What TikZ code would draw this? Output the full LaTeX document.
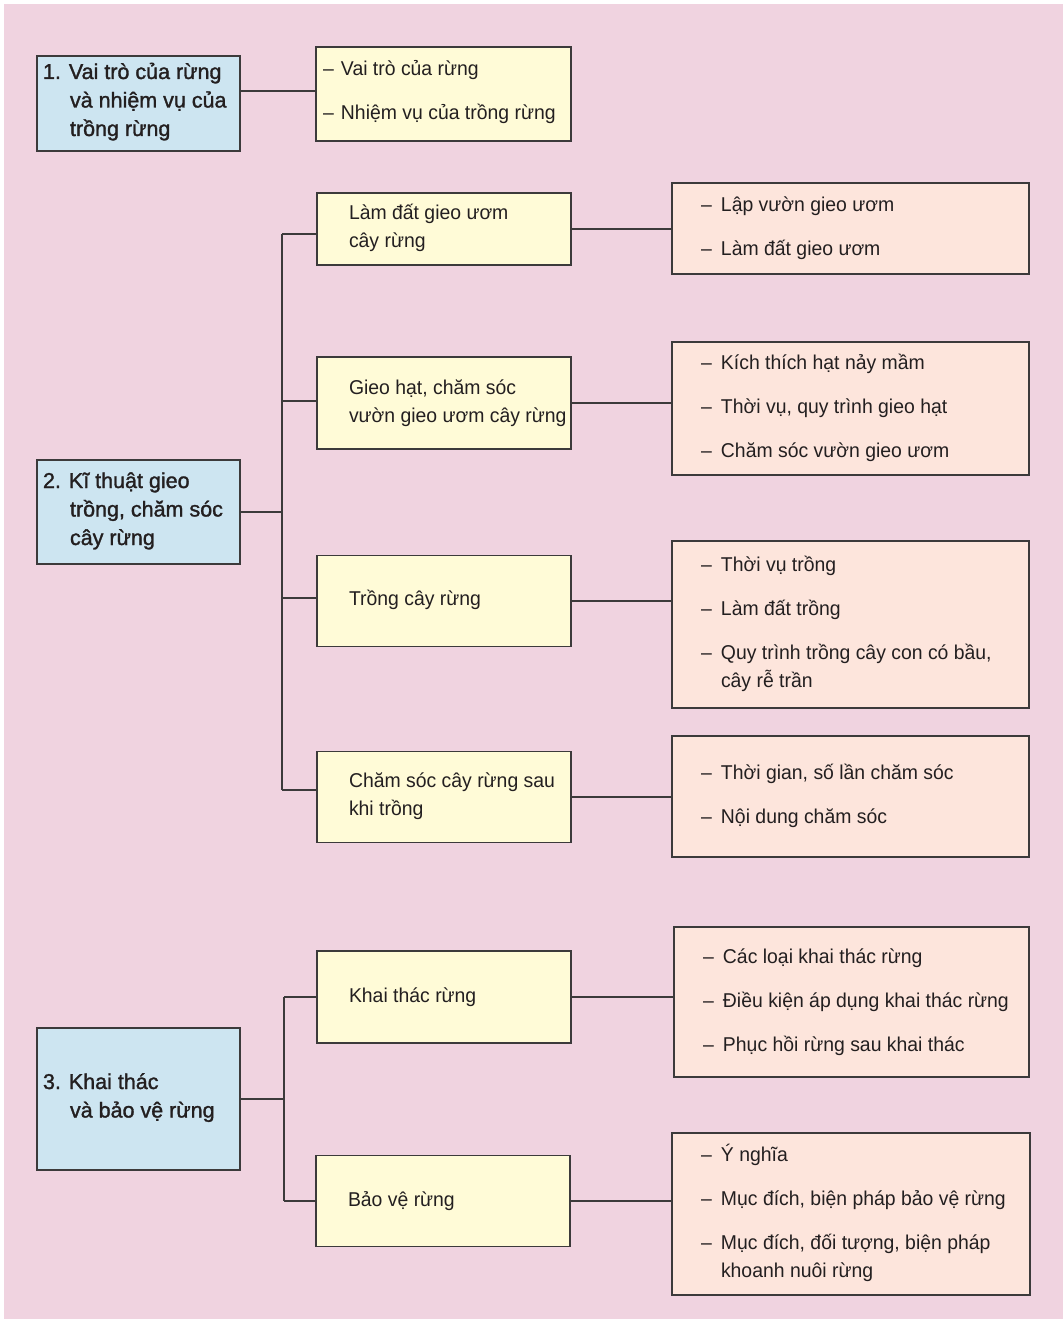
\documentclass[tikz,border=0pt]{standalone}
\usepackage{fontspec}
\setmainfont{Liberation Sans}[FakeStretch=0.97]
\newfontfamily\headfont{Liberation Sans}[FakeBold=1.4]
\definecolor{bgpink}{HTML}{F0D3E0}
\definecolor{bluefill}{HTML}{CDE5F1}
\definecolor{yelfill}{HTML}{FFFBD7}
\definecolor{peachfill}{HTML}{FDE5DC}
\definecolor{edge}{HTML}{3C3A3B}
\definecolor{ink}{HTML}{231F20}
\newcommand\dsh[1]{\makebox[#1][l]{–}}
\newcommand\mlines[1]{\parbox[t]{420pt}{\raggedright #1}}
\newcommand\hlines[2]{\parbox[t]{420pt}{\hangindent=#1\hangafter=1\relax #2}}
\tikzset{
  box/.style={draw=edge, line width=1.3pt, rectangle, inner sep=0pt, outer sep=0pt},
  bluebox/.style={box, fill=bluefill},
  yelbox/.style={box, fill=yelfill},
  peachbox/.style={box, fill=peachfill},
  txt/.style={anchor=base west, inner sep=0pt, outer sep=0pt, text=ink, font=\fontsize{20}{28.5}\selectfont},
  head/.style={txt, font=\headfont\fontsize{21.5}{28.5}\selectfont},
  link/.style={draw=edge, line width=1.5pt},
}
\begin{document}
\begin{tikzpicture}[x=1pt, y=-1pt]
\useasboundingbox (0,0) rectangle (1063,1319);
\fill[white] (0,0) rectangle (1063,1319);
\fill[bgpink] (4,4) rectangle (1063,1319);

% ---------- boxes ----------
\node[bluebox, minimum width=203pt, minimum height=95pt] (b1) at (138.5,103.5) {};
\node[yelbox, minimum width=255pt, minimum height=94pt] (y1) at (443.5,94) {};

\node[bluebox, minimum width=203pt, minimum height=104pt] (b2) at (138.5,512) {};
\node[yelbox, minimum width=254pt, minimum height=72pt] (y21) at (444,229) {};
\node[yelbox, minimum width=254pt, minimum height=92pt] (y22) at (444,403) {};
\node[yelbox, minimum width=254pt, minimum height=91pt] (y23) at (444,601) {};
\node[yelbox, minimum width=254pt, minimum height=91pt] (y24) at (444,797) {};
\node[peachbox, minimum width=357pt, minimum height=91pt] (p21) at (850.5,228.5) {};
\node[peachbox, minimum width=357pt, minimum height=133pt] (p22) at (850.5,408.5) {};
\node[peachbox, minimum width=357pt, minimum height=167pt] (p23) at (850.5,624.5) {};
\node[peachbox, minimum width=357pt, minimum height=121pt] (p24) at (850.5,796.5) {};

\node[bluebox, minimum width=203pt, minimum height=142pt] (b3) at (138.5,1099) {};
\node[yelbox, minimum width=254pt, minimum height=92pt] (y31) at (444,997) {};
\node[yelbox, minimum width=254pt, minimum height=91pt] (y32) at (443,1201) {};
\node[peachbox, minimum width=355pt, minimum height=150pt] (p31) at (851.5,1002) {};
\node[peachbox, minimum width=358pt, minimum height=162pt] (p32) at (851,1214) {};

% ---------- connectors ----------
\coordinate (c1) at ([yshift=3pt]y1.west);
\draw[link] (c1 -| b1.east) -- (c1);

\coordinate (t2a) at (282,234);
\coordinate (t2b) at (282,401);
\coordinate (t2c) at (282,598);
\coordinate (t2d) at (282,790);
\draw[link] (b2.east) -- (b2.east -| t2a);
\draw[link] (t2a) -- (t2d);
\draw[link] (t2a) -- (t2a -| y21.west);
\draw[link] (t2b) -- (t2b -| y22.west);
\draw[link] (t2c) -- (t2c -| y23.west);
\draw[link] (t2d) -- (t2d -| y24.west);
\draw[link] (y21.east) -- (y21.east -| p21.west);
\draw[link] (y22.east) -- (y22.east -| p22.west);
\draw[link] (y23.east) -- (y23.east -| p23.west);
\draw[link] (y24.east) -- (y24.east -| p24.west);

\coordinate (t3) at (284,1099);
\draw[link] (b3.east) -- (t3);
\draw[link] (t3 |- y31.west) -- (t3 |- y32.west);
\draw[link] (t3 |- y31.west) -- (y31.west);
\draw[link] (t3 |- y32.west) -- (y32.west);
\draw[link] (y31.east) -- (y31.east -| p31.west);
\draw[link] (y32.east) -- (y32.east -| p32.west);

% ---------- texts ----------
\node[head] (b1t) at (43,79) {\hlines{27pt}{1. Vai trò của rừng\\và nhiệm vụ của\\trồng rừng}};
\node[txt] (y1a) at (323,76) {\dsh{18pt}Vai trò của rừng};
\node[txt] (y1b) at (323,120) {\dsh{18pt}Nhiệm vụ của trồng rừng};

\node[head] (b2t) at (43,488) {\hlines{27pt}{2. Kĩ thuật gieo\\trồng, chăm sóc\\cây rừng}};
\node[txt] (y21t) at (349,219) {\mlines{Làm đất gieo ươm\\cây rừng}};
\node[txt] (y22t) at (349,394) {\mlines{Gieo hạt, chăm sóc\\vườn gieo ươm cây rừng}};
\node[txt] (y23t) at (349,605) {Trồng cây rừng};
\node[txt] (y24t) at (349,787) {\mlines{Chăm sóc cây rừng sau\\khi trồng}};

\node[txt] (p21a) at (701,211) {\dsh{20pt}Lập vườn gieo ươm};
\node[txt] (p21b) at (701,255) {\dsh{20pt}Làm đất gieo ươm};
\node[txt] (p22a) at (701,369) {\dsh{20pt}Kích thích hạt nảy mầm};
\node[txt] (p22b) at (701,413) {\dsh{20pt}Thời vụ, quy trình gieo hạt};
\node[txt] (p22c) at (701,457) {\dsh{20pt}Chăm sóc vườn gieo ươm};
\node[txt] (p23a) at (701,571) {\dsh{20pt}Thời vụ trồng};
\node[txt] (p23b) at (701,615) {\dsh{20pt}Làm đất trồng};
\node[txt] (p23c) at (701,659) {\hlines{20pt}{\dsh{20pt}Quy trình trồng cây con có bầu,\\cây rễ trần}};
\node[txt] (p24a) at (701,779) {\dsh{20pt}Thời gian, số lần chăm sóc};
\node[txt] (p24b) at (701,823) {\dsh{20pt}Nội dung chăm sóc};

\node[head] (b3t) at (43,1089) {\hlines{27pt}{3. Khai thác\\và bảo vệ rừng}};
\node[txt] (y31t) at (349,1002) {Khai thác rừng};
\node[txt] (y32t) at (348,1206) {Bảo vệ rừng};

\node[txt] (p31a) at (703,963) {\dsh{20pt}Các loại khai thác rừng};
\node[txt] (p31b) at (703,1007) {\dsh{20pt}Điều kiện áp dụng khai thác rừng};
\node[txt] (p31c) at (703,1051) {\dsh{20pt}Phục hồi rừng sau khai thác};
\node[txt] (p32a) at (701,1161) {\dsh{20pt}Ý nghĩa};
\node[txt] (p32b) at (701,1205) {\dsh{20pt}Mục đích, biện pháp bảo vệ rừng};
\node[txt] (p32c) at (701,1249) {\hlines{20pt}{\dsh{20pt}Mục đích, đối tượng, biện pháp\\khoanh nuôi rừng}};
\end{tikzpicture}
\end{document}
